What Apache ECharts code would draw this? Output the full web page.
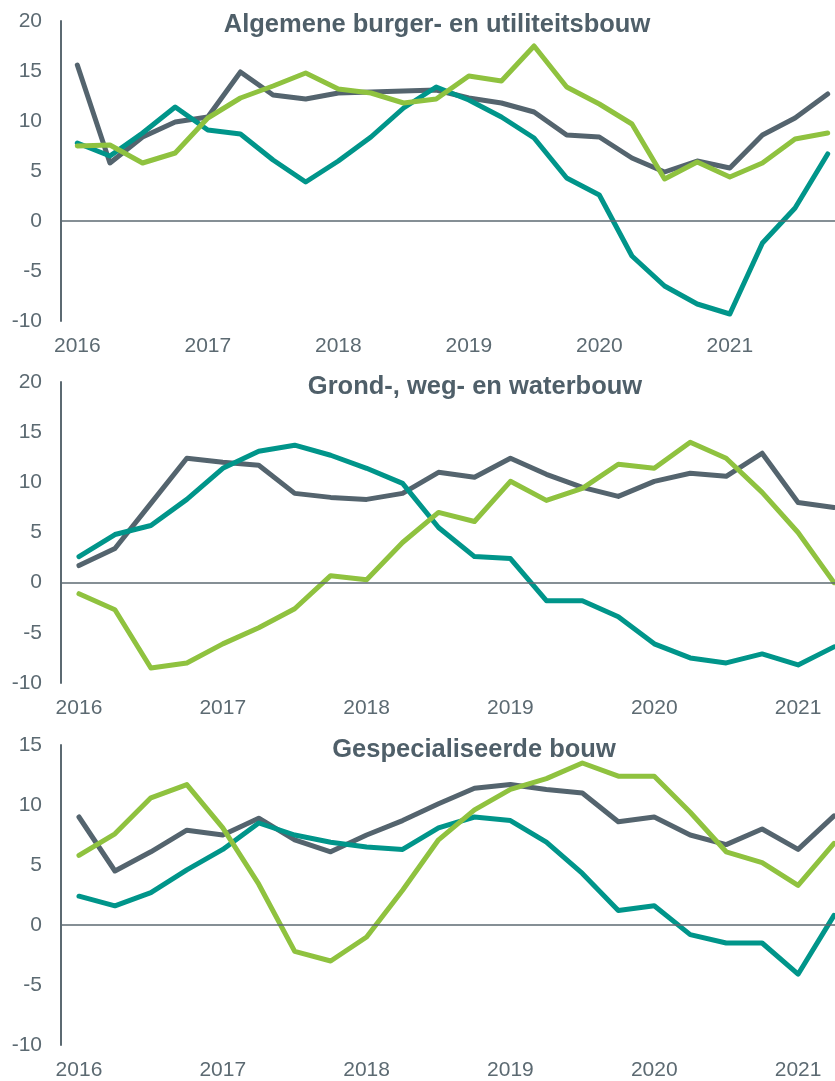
<!DOCTYPE html>
<html>
<head>
  <meta charset="utf-8">
  <title>Bouw</title>
  <script src="https://fastly.jsdelivr.net/npm/echarts@6/dist/echarts.min.js"></script>
  <style>
    html, body { margin: 0; padding: 0; background: #fff; overflow: hidden; }
    #main { width: 880px; height: 1081px; }
  </style>
</head>
<body>
<div id="main"></div>
<script type="text/javascript">
  // kwartalen
  var kwartalen24 = ['2016 K1','2016 K2','2016 K3','2016 K4','2017 K1','2017 K2','2017 K3','2017 K4',
    '2018 K1','2018 K2','2018 K3','2018 K4','2019 K1','2019 K2','2019 K3','2019 K4',
    '2020 K1','2020 K2','2020 K3','2020 K4','2021 K1','2021 K2','2021 K3','2021 K4'];
  var kwartalen22 = kwartalen24.slice(0, 22);

  // Algemene burger- en utiliteitsbouw
  var p1Grijs  = [15.6, 5.8, 8.4, 9.9, 10.4, 14.9, 12.6, 12.2, 12.8, 12.9, 13.0, 13.1, 12.3, 11.8, 10.9, 8.6, 8.4, 6.3, 4.9, 6.0, 5.3, 8.6, 10.3, 12.7];
  var p1Teal   = [7.8, 6.5, 8.8, 11.4, 9.1, 8.7, 6.1, 3.9, 6.0, 8.4, 11.3, 13.4, 12.1, 10.4, 8.3, 4.3, 2.6, -3.5, -6.5, -8.3, -9.3, -2.2, 1.3, 6.7];
  var p1Groen  = [7.5, 7.6, 5.8, 6.8, 10.3, 12.3, 13.5, 14.8, 13.2, 12.8, 11.8, 12.2, 14.5, 14.0, 17.5, 13.4, 11.7, 9.7, 4.2, 5.9, 4.4, 5.8, 8.2, 8.8];

  // Grond-, weg- en waterbouw
  var p2Grijs  = [1.7, 3.4, 7.9, 12.4, 12.0, 11.7, 8.9, 8.5, 8.3, 8.9, 11.0, 10.5, 12.4, 10.8, 9.5, 8.6, 10.1, 10.9, 10.6, 12.9, 8.0, 7.5];
  var p2Teal   = [2.6, 4.8, 5.7, 8.3, 11.4, 13.1, 13.7, 12.7, 11.4, 9.9, 5.5, 2.6, 2.4, -1.8, -1.8, -3.4, -6.1, -7.5, -8.0, -7.1, -8.2, -6.4];
  var p2Groen  = [-1.1, -2.7, -8.5, -8.0, -6.1, -4.5, -2.6, 0.7, 0.3, 4.0, 7.0, 6.1, 10.1, 8.2, 9.4, 11.8, 11.4, 14.0, 12.4, 9.0, 5.0, 0.0];

  // Gespecialiseerde bouw
  var p3Grijs  = [9.0, 4.5, 6.1, 7.9, 7.5, 8.9, 7.1, 6.1, 7.5, 8.7, 10.1, 11.4, 11.7, 11.3, 11.0, 8.6, 9.0, 7.5, 6.7, 8.0, 6.3, 9.1];
  var p3Teal   = [2.4, 1.6, 2.7, 4.6, 6.3, 8.5, 7.5, 6.9, 6.5, 6.3, 8.1, 9.0, 8.7, 6.9, 4.3, 1.2, 1.6, -0.8, -1.5, -1.5, -4.1, 0.8];
  var p3Groen  = [5.8, 7.6, 10.6, 11.7, 8.1, 3.4, -2.2, -3.0, -1.0, 2.9, 7.1, 9.6, 11.3, 12.2, 13.5, 12.4, 12.4, 9.4, 6.1, 5.2, 3.3, 6.8];

  var titels = ['Algemene burger- en utiliteitsbouw', 'Grond-, weg- en waterbouw', 'Gespecialiseerde bouw'];

  var kleurGrijs = '#54646e';
  var kleurTeal = '#00958a';
  var kleurGroen = '#8fc23f';
  var asKleur = '#5c6a72';
  var font = "'Liberation Sans', Arial, sans-serif";

  // plot loopt rechts iets door buiten beeld
  var grids = [
    { left: 61, top: 21, width: 783, height: 300 },
    { left: 61, top: 382, width: 791, height: 301 },
    { left: 61, top: 745, width: 791, height: 302 }
  ];

  function xAs(idx, data) {
    return {
      type: 'category', gridIndex: idx, data: data, boundaryGap: true,
      axisLine: { show: false }, axisTick: { show: false },
      axisLabel: {
        interval: 3, margin: 15, fontSize: 21, color: asKleur, fontFamily: font,
        formatter: function (v) { return v.slice(0, 4); }
      },
      splitLine: { show: false }
    };
  }
  function yAs(idx, min, max) {
    return {
      type: 'value', gridIndex: idx, min: min, max: max, interval: 5,
      axisLine: { show: true, lineStyle: { color: asKleur, width: 2 } },
      axisTick: { show: false },
      axisLabel: { margin: 19, fontSize: 21, color: asKleur, fontFamily: font },
      splitLine: { show: false }
    };
  }
  function lijn(idx, data, kleur, nullijn) {
    var s = {
      type: 'line', xAxisIndex: idx, yAxisIndex: idx, data: data,
      symbol: 'none', smooth: false,
      lineStyle: { color: kleur, width: 5, join: 'round', cap: 'round' },
      itemStyle: { color: kleur }
    };
    if (nullijn) {
      s.markLine = {
        silent: true, symbol: 'none', label: { show: false },
        lineStyle: { color: asKleur, width: 1.5, type: 'solid' },
        data: [{ yAxis: 0 }]
      };
    }
    return s;
  }

  var myChart = echarts.init(document.getElementById('main'));
  var option = {
    animation: false,
    backgroundColor: '#ffffff',
    grid: grids,
    xAxis: [xAs(0, kwartalen24), xAs(1, kwartalen22), xAs(2, kwartalen22)],
    yAxis: [yAs(0, -10, 20), yAs(1, -10, 20), yAs(2, -10, 15)],
    graphic: [
      { type: 'text', x: 437, y: 25, style: { text: titels[0], font: 'bold 25.5px ' + font, fill: '#4f5f69', textAlign: 'center', textVerticalAlign: 'middle' } },
      { type: 'text', x: 475, y: 387, style: { text: titels[1], font: 'bold 25.5px ' + font, fill: '#4f5f69', textAlign: 'center', textVerticalAlign: 'middle' } },
      { type: 'text', x: 474, y: 750, style: { text: titels[2], font: 'bold 25.5px ' + font, fill: '#4f5f69', textAlign: 'center', textVerticalAlign: 'middle' } }
    ],
    series: [
      lijn(0, p1Grijs, kleurGrijs, true),
      lijn(0, p1Teal, kleurTeal),
      lijn(0, p1Groen, kleurGroen),
      lijn(1, p2Grijs, kleurGrijs, true),
      lijn(1, p2Teal, kleurTeal),
      lijn(1, p2Groen, kleurGroen),
      lijn(2, p3Grijs, kleurGrijs, true),
      lijn(2, p3Teal, kleurTeal),
      lijn(2, p3Groen, kleurGroen)
    ]
  };
  myChart.setOption(option);
</script>
</body>
</html>
